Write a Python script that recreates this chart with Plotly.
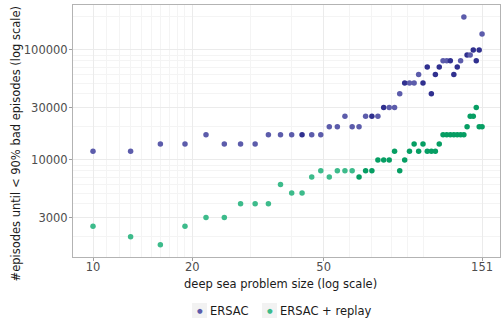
import plotly.graph_objects as go

# ---- data ----
sizes = [10, 13, 16, 19, 22, 25, 28, 31, 34, 37, 40, 43, 46, 49, 52, 55, 58, 61, 64, 67,
         70, 73, 76, 79, 82, 85, 88, 91, 94, 97, 100, 103, 106, 109, 112, 115, 118, 121,
         124, 127, 130, 133, 136, 139, 142, 145, 148, 151]

ersac = [12000, 12000, 14000, 14000, 17000, 14000, 14000, 14000, 17000, 17000,
         17000, 17000, 17000, 17000, 20000, 20000, 25000, 20000, 20000, 25000,
         25000, 25000, 30000, 30000, 30000, 40000, 50000, 50000, 50000, 60000,
         50000, 70000, 40000, 60000, 70000, 80000, 80000, 80000, 60000, 70000,
         80000, 200000, 90000, 90000, 100000, 80000, 100000, 140000]

ersac_replay = [2500, 2000, 1700, 2500, 3000, 3000, 4000, 4000, 4000, 6000,
                5000, 5000, 7000, 8000, 7000, 8000, 8000, 8000, 7000, 8000,
                8000, 10000, 10000, 10000, 12000, 8000, 10000, 12000, 14000, 12000,
                14000, 12000, 12000, 12000, 14000, 17000, 17000, 17000, 17000, 17000,
                17000, 17000, 20000, 25000, 25000, 30000, 20000, 20000]

# number of overlapping runs at each point (darker where runs coincide)
ersac_runs = [1, 1, 1, 1, 1, 1, 1, 1, 1, 1,
              1, 2, 1, 1, 1, 1, 1, 1, 1, 1,
              2, 1, 2, 1, 1, 1, 2, 1, 1, 1,
              2, 2, 2, 2, 2, 1, 1, 2, 2, 2,
              1, 1, 2, 1, 2, 2, 2, 1]
replay_runs = [1] * 18 + [2] * 30

x_ticks = [10, 20, 50, 151]
y_ticks = [3000, 10000, 30000, 100000]
y_tick_labels = ["3000", "10000", "30000", "100000"]

series_names = ["ERSAC", "ERSAC + replay"]

# ---- style ----
ersac_cols = {1: "#5c5cab", 2: "#30308f"}
replay_cols = {1: "#3dbb8b", 2: "#069e63"}
legend_cols = ["#5c5cab", "#3dbb8b"]
font_family = "DejaVu Sans"

fig = go.Figure()
fig.add_trace(go.Scatter(
    x=sizes, y=ersac, mode="markers", name=series_names[0], showlegend=False,
    marker=dict(size=5.5, color=[ersac_cols[r] for r in ersac_runs], line=dict(width=0)),
))
fig.add_trace(go.Scatter(
    x=sizes, y=ersac_replay, mode="markers", name=series_names[1], showlegend=False,
    marker=dict(size=5.5, color=[replay_cols[r] for r in replay_runs], line=dict(width=0)),
))

x_minor = [11, 12, 13, 14, 15, 16, 17, 18, 19, 30, 40, 60, 70, 80, 90, 100]
y_minor = [2000, 4000, 5000, 6000, 7000, 8000, 9000, 20000, 40000, 50000, 60000,
           70000, 80000, 90000, 200000]

axis_common = dict(
    showline=True, linecolor="#b3b3b3", linewidth=1, mirror=True,
    ticks="outside", ticklen=3, tickcolor="#a0a0a0", tickwidth=1,
    showgrid=True, gridcolor="#ebebeb", gridwidth=1,
    tickfont=dict(family=font_family, size=11.5, color="#4d4d4d"),
    zeroline=False,
)

fig.update_xaxes(
    type="log", range=[0.9394, 2.2333],
    tickmode="array", tickvals=x_ticks, ticktext=[str(v) for v in x_ticks],
    ticklabelstandoff=-4,
    minor=dict(tickmode="array", tickvals=x_minor, showgrid=True,
               gridcolor="#f4f4f4", gridwidth=0.6, ticks=""),
    **axis_common,
)
fig.update_yaxes(
    type="log", range=[3.118, 5.409],
    tickmode="array", tickvals=y_ticks, ticktext=y_tick_labels,
    ticklabelstandoff=-1,
    minor=dict(tickmode="array", tickvals=y_minor, showgrid=True,
               gridcolor="#f4f4f4", gridwidth=0.6, ticks=""),
    **axis_common,
)

W, H = 501, 321
L, R, T, B = 73, 1, 5, 64
pw, ph = W - L - R, H - T - B

def px_x(px):
    return (px - L) / pw

def px_y(py):
    return (H - B - py) / ph

title_font = dict(family=font_family, size=11.5, color="#1a1a1a")

annotations = [
    dict(text="deep sea problem size (log scale)", xref="paper", yref="paper",
         x=px_x(280.5), y=px_y(284), xanchor="center", yanchor="middle",
         showarrow=False, font=title_font),
    dict(text="#episodes until < 90% bad episodes (log scale)", xref="paper", yref="paper",
         x=px_x(15.5), y=px_y(144), xanchor="center", yanchor="middle", textangle=-90,
         showarrow=False, font=title_font),
]

# manual legend (key boxes, dots, labels)
legend_box_x = [192, 262]
shapes = []
for i, name in enumerate(series_names):
    bx = legend_box_x[i]
    shapes.append(dict(type="rect", xref="paper", yref="paper",
                       x0=px_x(bx), x1=px_x(bx + 15), y0=px_y(318), y1=px_y(303),
                       fillcolor="#f2f2f2", line=dict(width=0), layer="below"))
    annotations.append(dict(text="●", xref="paper", yref="paper",
                            x=px_x(bx + 7.5), y=px_y(310.5), xanchor="center", yanchor="middle",
                            showarrow=False,
                            font=dict(family=font_family, size=6.5, color=legend_cols[i])))
    annotations.append(dict(text=name, xref="paper", yref="paper",
                            x=px_x(bx + 16), y=px_y(310.5), xanchor="left", yanchor="middle",
                            showarrow=False, font=title_font))

fig.update_layout(
    width=W, height=H,
    margin=dict(l=L, r=R, t=T, b=B, autoexpand=False),
    paper_bgcolor="white", plot_bgcolor="white",
    font=dict(family=font_family, size=11, color="#1a1a1a"),
    showlegend=False,
    annotations=annotations,
    shapes=shapes,
)

fig.write_html("out.html")
